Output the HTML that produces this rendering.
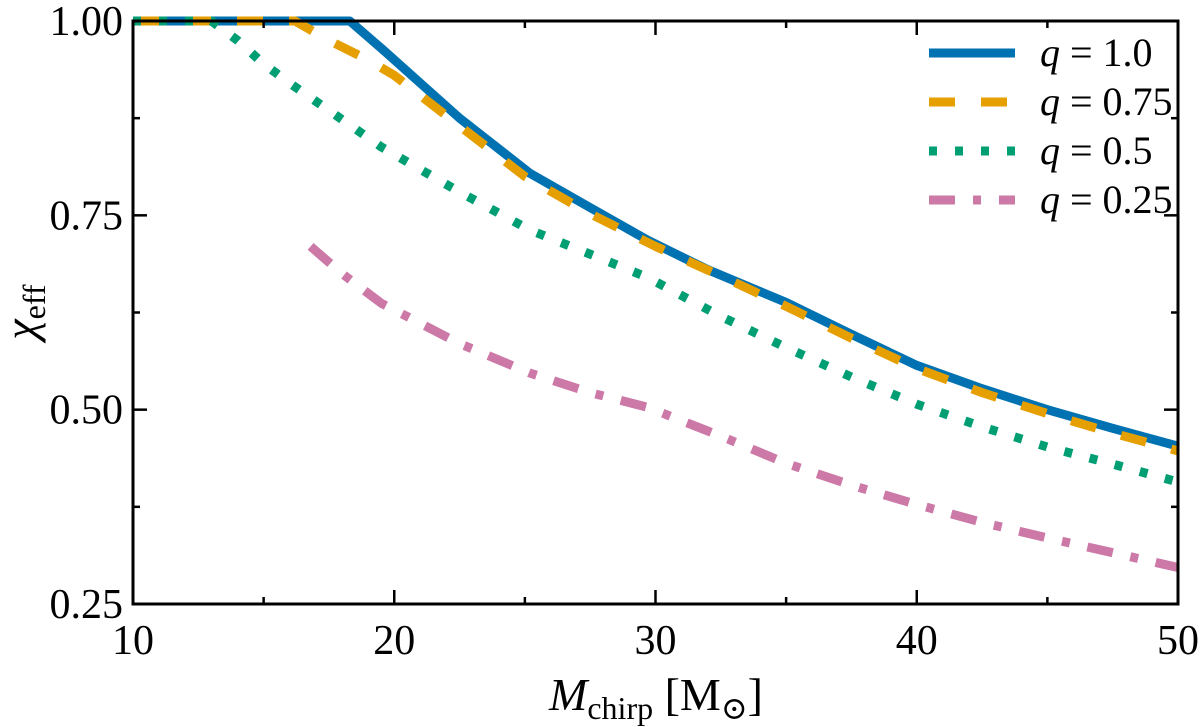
<!DOCTYPE html>
<html><head><meta charset="utf-8"><style>
body{margin:0;background:#fff}
svg{display:block;font-family:"Liberation Serif","DejaVu Serif",serif}
</style></head><body>
<svg id="chart" width="1200" height="727" viewBox="0 0 1200 727">
<g id="plot"></g>
</svg>
<script>
const xTicks=[10,20,30,40,50];
const xMinor=[15,25,35,45];
const yTicks=[0.25,0.5,0.75,1.0];
const yTickLabels=["0.25","0.50","0.75","1.00"];
const yMinor=[0.375,0.625,0.875];
const seriesNames=["q = 1.0","q = 0.75","q = 0.5","q = 0.25"];
const q100x=[10,18.3,19.5,21,22.5,25.2,27.5,29.7,32,35,37.5,40,42.5,45,47.5,50];
const q100y=[1.0,1.0,0.965,0.92,0.875,0.804,0.76,0.718,0.68,0.638,0.597,0.557,0.527,0.5,0.476,0.453];
const q075x=[10,16.2,17.5,19,20,22.5,25,27.5,30,32.5,35,37.5,40,42.5,45,47.5,50];
const q075y=[1.0,1.0,0.975,0.95,0.93,0.865,0.8,0.752,0.71,0.672,0.633,0.592,0.553,0.522,0.495,0.47,0.447];
const q050x=[10,13,14,15,16,17.5,19.5,22.5,25.2,27.5,29.7,32.5,35,37.5,40,42.5,45,47.5,50];
const q050y=[1.0,1.0,0.975,0.945,0.92,0.885,0.838,0.78,0.731,0.7,0.67,0.62,0.58,0.542,0.507,0.478,0.452,0.43,0.407];
const q025x=[16.8,18,19.5,22.5,25.2,27.5,29.7,32.5,35,37.5,40,42.5,45,47.5,50];
const q025y=[0.71,0.675,0.637,0.585,0.547,0.522,0.503,0.466,0.431,0.403,0.378,0.355,0.335,0.316,0.297];

const L=133,R=1178,T=21,B=604;
const X=v=>L+(v-10)/(50-10)*(R-L);
const Y=v=>B-(v-0.25)/(1-0.25)*(B-T);
const NS="http://www.w3.org/2000/svg";
const g=document.getElementById('plot');
function mk(tag,attrs,parent){const e=document.createElementNS(NS,tag);for(const k in attrs)e.setAttribute(k,attrs[k]);(parent||g).appendChild(e);return e;}

const clip=mk('clipPath',{id:'cp'});mk('rect',{x:L,y:T-6,width:R-L,height:B-T+6},clip);

const series=[
 {x:q100x,y:q100y,c:"#0072B2",d:"",n:"series-q-1-0"},
 {x:q075x,y:q075y,c:"#E69F00",d:"26 26",n:"series-q-0-75"},
 {x:q050x,y:q050y,c:"#009E73",d:"8 18",n:"series-q-0-5"},
 {x:q025x,y:q025y,c:"#CC79A7",d:"26 18 8 18",n:"series-q-0-25"}];
series.forEach((s,i)=>{
 const pts=s.x.map((v,j)=>X(v).toFixed(1)+","+Y(s.y[j]).toFixed(1)).join(" ");
 const p=mk('polyline',{points:pts,fill:"none",stroke:s.c,"stroke-width":9,"stroke-dasharray":s.d,"stroke-linejoin":"round","clip-path":"url(#cp)"});
 
 
});

const frame=mk('rect',{x:L,y:T,width:R-L,height:B-T,fill:"none",stroke:"#000","stroke-width":3});



xTicks.forEach(v=>{
 mk('line',{x1:X(v),x2:X(v),y1:B,y2:B-14,stroke:"#000","stroke-width":2.5});
 mk('line',{x1:X(v),x2:X(v),y1:T,y2:T+14,stroke:"#000","stroke-width":2.5});
 const t=mk('text',{x:X(v),y:B+50,"text-anchor":"middle","font-size":42});t.textContent=v;
 
 
});
xMinor.forEach(v=>{
 mk('line',{x1:X(v),x2:X(v),y1:B,y2:B-7,stroke:"#000","stroke-width":2.5});
 mk('line',{x1:X(v),x2:X(v),y1:T,y2:T+7,stroke:"#000","stroke-width":2.5});
});
yTicks.forEach((v,i)=>{
 mk('line',{x1:L,x2:L+14,y1:Y(v),y2:Y(v),stroke:"#000","stroke-width":2.5});
 mk('line',{x1:R,x2:R-14,y1:Y(v),y2:Y(v),stroke:"#000","stroke-width":2.5});
 const t=mk('text',{x:L-10,y:Y(v)+14,"text-anchor":"end","font-size":42});t.textContent=yTickLabels[i];
 
 
});
yMinor.forEach(v=>{
 mk('line',{x1:L,x2:L+7,y1:Y(v),y2:Y(v),stroke:"#000","stroke-width":2.5});
 mk('line',{x1:R,x2:R-7,y1:Y(v),y2:Y(v),stroke:"#000","stroke-width":2.5});
});

const xl=mk('text',{x:656,y:710,"text-anchor":"middle","font-size":46});
xl.innerHTML='<tspan font-style="italic">M</tspan><tspan font-size="32" dy="9">chirp</tspan><tspan dy="-9"> [M</tspan><tspan font-size="32" dy="9">⊙</tspan><tspan dy="-9">]</tspan>';


const yl=mk('text',{transform:"translate(36,312) rotate(-90)","text-anchor":"middle","font-size":46});
yl.innerHTML='<tspan font-style="italic">χ</tspan><tspan font-size="32" dy="9">eff</tspan>';



const lg=mk('g',{});


series.forEach((s,i)=>{
 const y=53+i*49;
 const ln=mk('line',{x1:929,x2:1015,y1:y,y2:y,stroke:s.c,"stroke-width":9,"stroke-dasharray":s.d},lg);
 
 
 const parts=seriesNames[i].split(" = ");
 const t=mk('text',{x:1040,y:y+13,"font-size":40},lg);
 t.innerHTML='<tspan font-style="italic">'+parts[0]+'</tspan> = '+parts[1];
 
 
});
</script>
</body></html>
